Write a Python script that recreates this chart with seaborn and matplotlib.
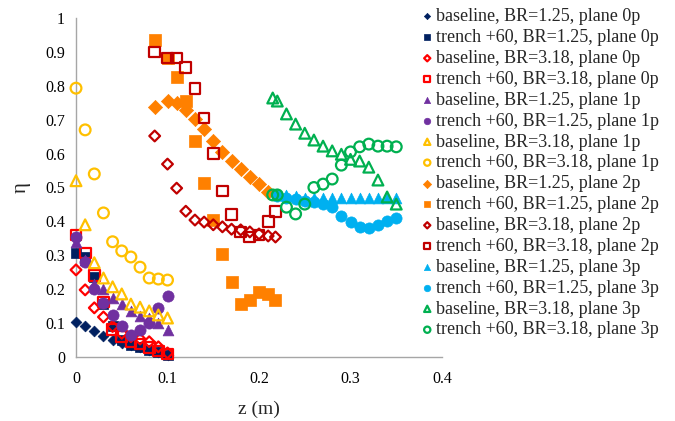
import numpy as np
import pandas as pd
import matplotlib
matplotlib.use("Agg")
import matplotlib.pyplot as plt
import seaborn as sns

# ---------------- data ----------------
labels = [
    "baseline, BR=1.25, plane 0p", "trench +60, BR=1.25, plane 0p",
    "baseline, BR=3.18, plane 0p", "trench +60, BR=3.18, plane 0p",
    "baseline, BR=1.25, plane 1p", "trench +60, BR=1.25, plane 1p",
    "baseline, BR=3.18, plane 1p", "trench +60, BR=3.18, plane 1p",
    "baseline, BR=1.25, plane 2p", "trench +60, BR=1.25, plane 2p",
    "baseline, BR=3.18, plane 2p", "trench +60, BR=3.18, plane 2p",
    "baseline, BR=1.25, plane 3p", "trench +60, BR=1.25, plane 3p",
    "baseline, BR=3.18, plane 3p", "trench +60, BR=3.18, plane 3p",
]

z_p01 = [0.0, 0.01, 0.02, 0.03, 0.04, 0.05, 0.06, 0.07, 0.08, 0.09, 0.10]
z_p2 = [0.086, 0.10, 0.11, 0.12, 0.13, 0.14, 0.15, 0.16, 0.17, 0.18, 0.19, 0.20, 0.21, 0.218]
z_p2_base = [0.086, 0.10, 0.11, 0.12, 0.13, 0.14, 0.15, 0.16, 0.17, 0.18, 0.19, 0.20, 0.21]
z_p3 = [0.22, 0.23, 0.24, 0.25, 0.26, 0.27, 0.28, 0.29, 0.30, 0.31, 0.32, 0.33, 0.34, 0.35]
z_p3_br318 = [0.215, 0.22, 0.23, 0.24, 0.25, 0.26, 0.27, 0.28, 0.29, 0.30, 0.31, 0.32, 0.33, 0.34, 0.35]

eta_b125_0p = [0.103, 0.091, 0.077, 0.062, 0.05, 0.04, 0.035, 0.03, 0.02, 0.015, 0.005]
eta_t125_0p = [0.307, 0.295, 0.236, 0.156, 0.09, 0.05, 0.035, 0.03, 0.02, 0.015, 0.006]
eta_b318_0p = [0.257, 0.198, 0.145, 0.118, 0.09, 0.07, 0.06, 0.053, 0.045, 0.03, 0.012]
eta_t318_0p = [0.36, 0.307, 0.24, 0.162, 0.082, 0.06, 0.045, 0.038, 0.027, 0.018, 0.009]
eta_b125_1p = [0.34, 0.285, 0.215, 0.2, 0.175, 0.155, 0.135, 0.12, 0.115, 0.1, 0.08]
eta_t125_1p = [0.355, 0.28, 0.2, 0.16, 0.124, 0.09, 0.065, 0.08, 0.1, 0.145, 0.18]
eta_b318_1p = [0.52, 0.39, 0.278, 0.233, 0.207, 0.186, 0.156, 0.147, 0.136, 0.124, 0.115]
eta_t318_1p = [0.793, 0.67, 0.54, 0.425, 0.34, 0.313, 0.295, 0.265, 0.233, 0.23, 0.227]
eta_b125_2p = [0.737, 0.755, 0.749, 0.729, 0.702, 0.672, 0.637, 0.605, 0.577, 0.555, 0.53, 0.51, 0.487]
eta_t125_2p = [0.935, 0.882, 0.826, 0.755, 0.637, 0.513, 0.404, 0.304, 0.22, 0.156, 0.168, 0.192, 0.185, 0.168]
eta_b318_2p = [0.652, 0.569, 0.498, 0.43, 0.404, 0.398, 0.39, 0.384, 0.377, 0.375, 0.369, 0.363, 0.357, 0.354]
eta_t318_2p = [0.9, 0.882, 0.882, 0.855, 0.793, 0.705, 0.6, 0.49, 0.42, 0.369, 0.354, 0.36, 0.40, 0.43]
eta_b125_3p = [0.48, 0.478, 0.475, 0.47, 0.468, 0.468, 0.47, 0.47, 0.47, 0.47, 0.47, 0.47, 0.47, 0.47]
eta_t125_3p = [0.475, 0.47, 0.465, 0.46, 0.457, 0.451, 0.442, 0.416, 0.398, 0.383, 0.38, 0.39, 0.40, 0.41]
eta_b318_3p = [0.764, 0.755, 0.717, 0.687, 0.66, 0.64, 0.622, 0.608, 0.598, 0.583, 0.578, 0.56, 0.522, 0.472, 0.451]
eta_t318_3p = [0.478, 0.478, 0.442, 0.422, 0.451, 0.5, 0.51, 0.525, 0.566, 0.605, 0.62, 0.628, 0.622, 0.622, 0.62]

xs = [z_p01] * 8 + [z_p2_base, z_p2, z_p2, z_p2, z_p3, z_p3, z_p3_br318, z_p3_br318]
ys = [eta_b125_0p, eta_t125_0p, eta_b318_0p, eta_t318_0p,
      eta_b125_1p, eta_t125_1p, eta_b318_1p, eta_t318_1p,
      eta_b125_2p, eta_t125_2p, eta_b318_2p, eta_t318_2p,
      eta_b125_3p, eta_t125_3p, eta_b318_3p, eta_t318_3p]

colors = ["#002060", "#002060", "#FF0000", "#FF0000",
          "#7030A0", "#7030A0", "#FFC000", "#FFC000",
          "#FF8000", "#FF8000", "#C00000", "#C00000",
          "#00B0F0", "#00B0F0", "#00B050", "#00B050"]
markers = ["D", "s", "D", "s", "^", "o", "^", "o",
           "D", "s", "D", "s", "^", "o", "^", "o"]
filled = [True, True, False, False, True, True, False, False,
          True, True, False, False, True, True, False, False]
sizes = [30, 60, 30, 60, 60, 65, 60, 60, 52, 65, 30, 60, 60, 65, 60, 60]

# ---------------- plot ----------------
sns.set_style("white")
plt.rcParams["font.family"] = ["Liberation Serif", "DejaVu Serif"]

fig = plt.figure(figsize=(6.75, 4.21), dpi=100)
ax = fig.add_axes([76 / 675, 64 / 421, 366 / 675, 339 / 421])

for lab, x, y, c, m, f, s in zip(labels, xs, ys, colors, markers, filled, sizes):
    df = pd.DataFrame({"z": x, "eta": y})
    if f:
        sns.scatterplot(data=df, x="z", y="eta", ax=ax, marker=m, color=c,
                        edgecolor=c, linewidth=0.5, s=s, label=lab, clip_on=False, zorder=3)
    else:
        sns.scatterplot(data=df, x="z", y="eta", ax=ax, marker=m, color=c,
                        facecolor="none", edgecolor=c, linewidth=1.6, s=s,
                        label=lab, clip_on=False, zorder=3)

ax.set_xlim(0, 0.4)
ax.set_ylim(0, 1)
ax.set_xticks(np.arange(0, 0.41, 0.1))
ax.set_yticks(np.arange(0, 1.01, 0.1))
ax.set_xticklabels(["0", "0.1", "0.2", "0.3", "0.4"])
ax.set_yticklabels(["0", "0.1", "0.2", "0.3", "0.4", "0.5", "0.6", "0.7", "0.8", "0.9", "1"])

for side in ["top", "right"]:
    ax.spines[side].set_visible(False)
for side in ["left", "bottom"]:
    ax.spines[side].set_color("#A6A6A6")
    ax.spines[side].set_linewidth(1.0)
ax.tick_params(axis="both", which="major", direction="out", length=5, width=1,
               color="#A6A6A6", labelsize=11.5, labelcolor="black", pad=3)
ax.tick_params(axis="x", pad=5)

ax.set_xlabel("z (m)", fontsize=14, labelpad=10)
ax.set_ylabel("η", fontsize=15, labelpad=10)

leg = ax.legend(loc="upper left", bbox_to_anchor=(411 / 675, 1 - 1 / 421),
                bbox_transform=fig.transFigure, frameon=False, fontsize=13,
                markerscale=0.58, handletextpad=0.0, labelspacing=0.215,
                borderaxespad=0, handlelength=1.0)

fig.savefig("out.png", dpi=100)
